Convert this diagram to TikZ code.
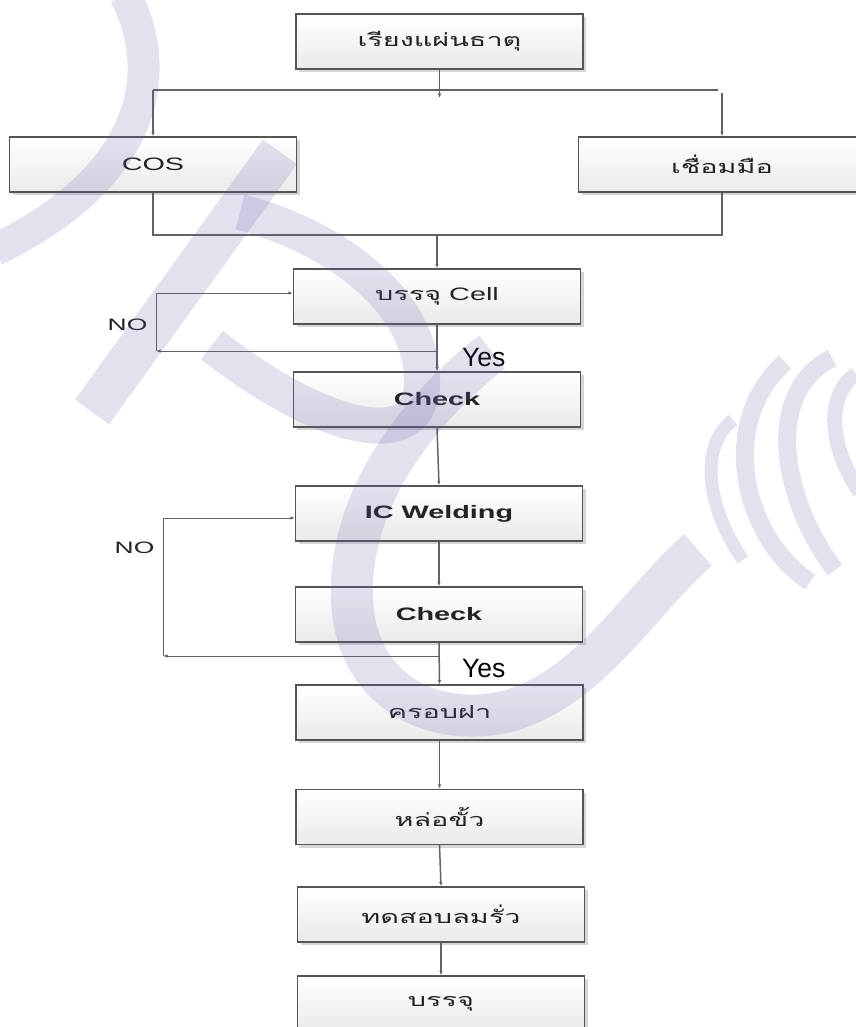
\documentclass[tikz,border=0pt]{standalone}
\usepackage{fontspec}
\usepackage{graphicx}
\setmainfont{Liberation Sans}
\newfontfamily\thai[Script=Thai]{Loma}
\usetikzlibrary{arrows.meta,shadows}

\definecolor{edge}{RGB}{85,85,85}
\definecolor{wire}{RGB}{100,100,100}
\definecolor{ink}{RGB}{35,35,35}
\definecolor{shade}{RGB}{234,234,234}
\definecolor{wm}{RGB}{110,90,170}

% horizontally widened label text
\newcommand{\wtext}[2]{\scalebox{#1}[1]{#2}}

\tikzset{
  stepbox/.style={draw=edge, line width=1.2pt, minimum width=287pt, minimum height=55pt,
    inner sep=0pt, top color=white, bottom color=shade, text=ink,
    general shadow={fill=black!16, shadow xshift=3pt, shadow yshift=-3pt}},
  tip/.style={-{Latex[length=4.5pt,width=3.5pt]}},
  flow/.style={draw=wire, line width=1.5pt, tip},
  plain/.style={draw=wire, line width=1.3pt},
  loopline/.style={draw=wire, line width=1pt},
  boxfont/.style={font=\fontsize{18}{20}\selectfont},
  nofont/.style={font=\fontsize{16.5}{18}\selectfont, text=ink},
  yesfont/.style={font=\fontsize{26.5}{28}\selectfont, text=black, inner sep=0pt},
  wmark/.style={draw=wm, opacity=0.18, line cap=butt},
}

\begin{document}
\begin{tikzpicture}[x=1pt, y=-1pt]
\useasboundingbox (0,0) rectangle (855,1027);
\fill[white] (0,0) rectangle (855,1027);

% process steps
\node[stepbox, boxfont] (sort)  at (439.5,41.5)  {\thai\wtext{1.6}{เรียงแผ่นธาตุ}};
\node[stepbox, boxfont] (cos)   at (153,164.5)   {\wtext{1.6}{COS}};
\node[stepbox, boxfont] (weld)  at (722,164.5)   {\thai\wtext{1.6}{เชื่อมมือ}};
\node[stepbox, boxfont] (cell)  at (437,296.5)   {\wtext{1.6}{{\thai บรรจุ} Cell}};
\node[stepbox, boxfont] (chk1)  at (437,399.5)   {\wtext{1.6}{\bfseries Check}};
\node[stepbox, boxfont] (icw)   at (439,513.5)   {\wtext{1.6}{\bfseries IC Welding}};
\node[stepbox, boxfont] (chk2)  at (439,614.5)   {\wtext{1.6}{\bfseries Check}};
\node[stepbox, boxfont] (cap)   at (439.5,712.5) {\thai\wtext{1.6}{ครอบฝา}};
\node[stepbox, boxfont] (pour)  at (439.5,817)   {\thai\wtext{1.6}{หล่อขั้ว}};
\node[stepbox, boxfont] (leak)  at (441,914.5)   {\thai\wtext{1.6}{ทดสอบลมรั่ว}};
\node[stepbox, boxfont] (pack)  at (441,1003.5)  {\thai\wtext{1.6}{บรรจุ}};

% branch points
\coordinate (sortTip) at (439.5,98);
\coordinate (bus1L) at (153,90);
\coordinate (bus1R) at (718,90);
\coordinate (dropR) at (722,93);
\coordinate (bus2L) at (153,235);
\coordinate (bus2R) at (722,235);
\coordinate (bus2M) at (437,235);
\coordinate (fork1) at (437,351);
\coordinate (ret1)  at (156,351);
\coordinate (ret1t) at (156,293);
\coordinate (fork2) at (439,656);
\coordinate (ret2)  at (163,656);
\coordinate (ret2t) at (163,518);

% connectors
\draw[flow] (sort.south) -- (sortTip);
\draw[plain] (bus1L) -- (bus1R);
\draw[flow] (bus1L) -- (cos.north);
\draw[flow] (dropR) -- (weld.north);
\draw[plain] (cos.south) -- (bus2L) -- (bus2R) -- (weld.south);
\draw[flow] (bus2M) -- (cell.north);
\draw[flow] (cell.south) -- (chk1.north);
\draw[loopline, tip] (fork1) -- (ret1);
\draw[loopline, tip] (ret1) -- (ret1t) -- (cell.west |- ret1t);
\draw[flow] (chk1.south) -- (icw.north);
\draw[flow] (icw.south) -- (chk2.north);
\draw[loopline, tip] (fork2) -- (ret2);
\draw[loopline, tip] (ret2) -- (ret2t) -- (icw.west |- ret2t);
\draw[flow] (chk2.south) -- (cap.north);
\draw[flow] (cap.south) -- (pour.north);
\draw[flow] (pour.south) -- (leak.north);
\draw[flow] (leak.south) -- (pack.north);

% branch labels
\node[nofont] (no1) at (127.5,325) {\wtext{1.6}{NO}};
\node[nofont] (no2) at (134.5,548) {\wtext{1.6}{NO}};
\node[yesfont, anchor=base west] (yes1) at (462,366.5) {Yes};
\node[yesfont, anchor=base west] (yes2) at (462,677) {Yes};

% background logo marks
\draw[wmark, line width=32pt] (125,-5) .. controls (160,60) and (160,170) .. (-5,250);
\draw[wmark, line width=42pt] (92,412) -- (280,152);
\draw[wmark, line width=36pt] (240,212) .. controls (330,235) and (425,300) .. (422,385) .. controls (420,455) and (320,430) .. (212,345);
\draw[wmark, line width=42pt] (492,352) .. controls (405,420) and (348,510) .. (352,600) .. controls (356,690) and (430,728) .. (505,712) .. controls (590,690) and (640,600) .. (698,550);
\draw[wmark, line width=13pt] (743,560) .. controls (705,505) and (700,445) .. (733,420);
\draw[wmark, line width=18pt] (810,582) .. controls (745,540) and (715,425) .. (785,362);
\draw[wmark, line width=18pt] (835,570) .. controls (785,505) and (760,395) .. (832,358);
\draw[wmark, line width=15pt] (860,492) .. controls (828,445) and (826,395) .. (856,374);
\end{tikzpicture}
\end{document}
